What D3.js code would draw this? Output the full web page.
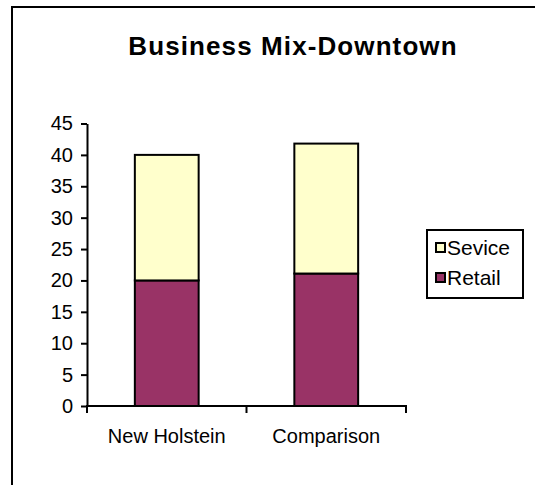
<!DOCTYPE html>
<html>
<head>
<meta charset="utf-8">
<script src="https://cdn.jsdelivr.net/npm/d3@7"></script>
<style>
  html, body { margin: 0; padding: 0; background: #fff; }
  svg { display: block; font-family: Arial, "Liberation Sans", sans-serif; }
</style>
</head>
<body>
<svg id="chart" width="535" height="485"></svg>
<script>
// Business mix by location, stacked: Retail at the bottom, Service on top
const categories = ["New Holstein", "Comparison"];
const retailValues = [20, 21.1];
const serviceValues = [20, 20.7];
const seriesNames = ["Retail", "Sevice"];
const seriesColors = ["#993366", "#FFFFCC"];
const yTicks = [0, 5, 10, 15, 20, 25, 30, 35, 40, 45];

const svg = d3.select("#chart");

// Chart-area frame (runs off the right and bottom edges of the page)
svg.append("rect")
  .attr("x", 12).attr("y", 7)
  .attr("width", 540).attr("height", 500)
  .attr("fill", "#fff").attr("stroke", "#000").attr("stroke-width", 2);

// Title
svg.append("text")
  .attr("x", 293).attr("y", 55)
  .attr("text-anchor", "middle")
  .attr("font-size", 26).attr("font-weight", "bold")
  .attr("letter-spacing", 1.1)
  .text("Business Mix-Downtown");

const plot = { left: 87, right: 406, top: 123.5, bottom: 406 };

const x = d3.scaleBand()
  .domain(categories)
  .range([plot.left, plot.right])
  .paddingInner(0.6)
  .paddingOuter(0.3);

const y = d3.scaleLinear()
  .domain([0, 45])
  .range([plot.bottom, plot.top]);

const rows = categories.map((c, i) => ({ cat: c, Retail: retailValues[i], Sevice: serviceValues[i] }));
const stacked = d3.stack().keys(seriesNames)(rows);

// Bars
svg.append("g").selectAll("g")
  .data(stacked)
  .join("g")
  .attr("fill", (d, i) => seriesColors[i])
  .selectAll("rect")
  .data(d => d)
  .join("rect")
  .attr("x", d => x(d.data.cat))
  .attr("width", x.bandwidth())
  .attr("y", d => y(d[1]))
  .attr("height", d => y(d[0]) - y(d[1]))
  .attr("stroke", "#000")
  .attr("stroke-width", 2);

// Y axis
const yAxis = svg.append("g")
  .attr("transform", `translate(${plot.left},0)`)
  .call(d3.axisLeft(y).tickValues(yTicks).tickSize(6).tickSizeOuter(0).tickPadding(8));
yAxis.select(".domain").attr("stroke", "#000").attr("stroke-width", 2);
yAxis.selectAll(".tick line").attr("stroke", "#000").attr("stroke-width", 2);
yAxis.selectAll(".tick text").attr("font-size", 20).attr("fill", "#000")
  .attr("font-family", "Arial, 'Liberation Sans', sans-serif");

// X axis: ticks sit on the category boundaries
const xAxisG = svg.append("g")
  .attr("transform", `translate(0,${plot.bottom})`);
xAxisG.append("line")
  .attr("x1", plot.left - 1).attr("x2", plot.right + 1)
  .attr("stroke", "#000").attr("stroke-width", 2);
const boundaries = [plot.left, plot.left + (plot.right - plot.left) / 2, plot.right];
xAxisG.selectAll("line.tk")
  .data(boundaries)
  .join("line")
  .attr("class", "tk")
  .attr("x1", d => d).attr("x2", d => d)
  .attr("y1", 0).attr("y2", 7)
  .attr("stroke", "#000").attr("stroke-width", 2);
xAxisG.selectAll("text")
  .data(categories)
  .join("text")
  .attr("x", d => x(d) + x.bandwidth() / 2)
  .attr("y", 37)
  .attr("text-anchor", "middle")
  .attr("font-size", 20)
  .text(d => d);

// Legend (Service listed first, as it is on top of the stack)
const legend = svg.append("g");
legend.append("rect")
  .attr("x", 427).attr("y", 230)
  .attr("width", 96).attr("height", 68)
  .attr("fill", "#fff").attr("stroke", "#000").attr("stroke-width", 2);
const legendItems = [
  { name: seriesNames[1], color: seriesColors[1] },
  { name: seriesNames[0], color: seriesColors[0] }
];
const li = legend.selectAll("g.item")
  .data(legendItems)
  .join("g")
  .attr("class", "item")
  .attr("transform", (d, i) => `translate(436,${243 + i * 30})`);
li.append("rect")
  .attr("width", 9).attr("height", 9)
  .attr("fill", d => d.color)
  .attr("stroke", "#000").attr("stroke-width", 2);
li.append("text")
  .attr("x", 11).attr("y", 12)
  .attr("font-size", 21)
  .text(d => d.name);
</script>
</body>
</html>
